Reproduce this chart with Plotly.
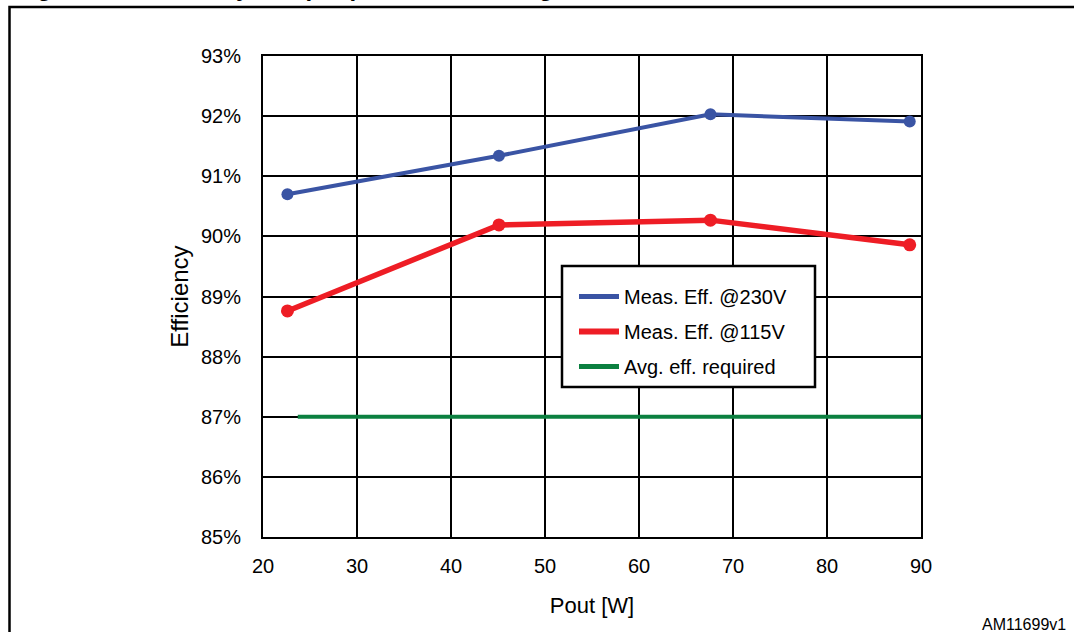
import plotly.graph_objects as go

# Data
pout = [22.6, 45.1, 67.6, 88.8]
eff_230 = [0.9070, 0.9134, 0.9203, 0.9191]
eff_115 = [0.8876, 0.9019, 0.9027, 0.8986]
req_x = [23.7, 90]
req_y = [0.87, 0.87]

x_ticks = [20, 30, 40, 50, 60, 70, 80, 90]
y_ticks = [0.85, 0.86, 0.87, 0.88, 0.89, 0.90, 0.91, 0.92, 0.93]
y_tick_labels = ["85%", "86%", "87%", "88%", "89%", "90%", "91%", "92%", "93%"]

BLUE = "#3A54A4"
RED = "#EE1D25"
GREEN = "#0B8040"
FONT = "Liberation Sans, Arial, sans-serif"

W, H = 1074, 632
L, R, T, B = 263, 921, 56, 537  # plot area in pixels


def px_x(p):
    return (p - L) / (R - L)


def px_y(p):
    return (B - p) / (B - T)


fig = go.Figure()

fig.add_trace(go.Scatter(x=req_x, y=req_y, mode="lines",
                         line=dict(color=GREEN, width=4), showlegend=False))
fig.add_trace(go.Scatter(x=pout, y=eff_115, mode="lines+markers",
                         line=dict(color=RED, width=5.5),
                         marker=dict(color=RED, size=13), showlegend=False))
fig.add_trace(go.Scatter(x=pout, y=eff_230, mode="lines+markers",
                         line=dict(color=BLUE, width=4),
                         marker=dict(color=BLUE, size=12), showlegend=False))

# legend entries
fig.add_trace(go.Scatter(x=[None], y=[None], mode="lines", name="Meas. Eff. @230V",
                         legendgroup="a", line=dict(color=BLUE, width=5)))
fig.add_trace(go.Scatter(x=[None], y=[None], mode="lines", name="Meas. Eff. @115V",
                         legendgroup="b", line=dict(color=RED, width=6)))
fig.add_trace(go.Scatter(x=[None], y=[None], mode="lines", name="Avg. eff. required",
                         legendgroup="c", line=dict(color=GREEN, width=5)))

axis_common = dict(showgrid=True, gridcolor="black", gridwidth=1.5,
                   showline=True, linecolor="black", linewidth=2, mirror=True,
                   zeroline=False, ticks="", tickfont=dict(family=FONT, size=20, color="black"))

fig.update_xaxes(range=[20, 90], tickvals=x_ticks, ticklabelstandoff=10,
                 title=dict(text="Pout [W]", font=dict(family=FONT, size=22, color="black"),
                            standoff=22),
                 **axis_common)
fig.update_yaxes(range=[0.85, 0.93], tickvals=y_ticks, ticktext=y_tick_labels,
                 ticklabelstandoff=16,
                 title=dict(text="Efficiency", font=dict(family=FONT, size=24, color="black"),
                            standoff=6),
                 **axis_common)

fig.update_layout(
    width=W, height=H,
    margin=dict(l=L, r=W - R, t=T, b=H - B),
    paper_bgcolor="white", plot_bgcolor="white",
    font=dict(family=FONT, color="black"),
    legend=dict(x=px_x(574), y=px_y(277), xanchor="left", yanchor="top",
                bgcolor="rgba(0,0,0,0)", borderwidth=0,
                font=dict(family=FONT, size=20, color="black"),
                tracegroupgap=6, itemwidth=40),
    shapes=[
        dict(type="rect", xref="paper", yref="paper",
             x0=px_x(9.5), x1=px_x(1090), y0=px_y(7), y1=px_y(660),
             line=dict(color="black", width=2.5), layer="below"),
        dict(type="rect", xref="paper", yref="paper",
             x0=px_x(562), x1=px_x(815), y0=px_y(266), y1=px_y(387),
             fillcolor="white", line=dict(color="black", width=2.5), layer="above"),
    ],
    annotations=[
        dict(text="AM11699v1", xref="paper", yref="paper", x=px_x(1068), y=px_y(635),
             xanchor="right", yanchor="bottom", showarrow=False,
             font=dict(family=FONT, size=16, color="black")),
        dict(text="<b>Figure 16. Efficiency at input power and average</b>", xref="paper", yref="paper",
             x=px_x(14), y=px_y(2.5), xanchor="left", yanchor="bottom", showarrow=False,
             font=dict(family=FONT, size=24, color="black")),
    ],
)

fig.write_html("out.html", config={"displayModeBar": False},
               post_script="document.body.style.margin='0';document.body.style.overflow='hidden';")
